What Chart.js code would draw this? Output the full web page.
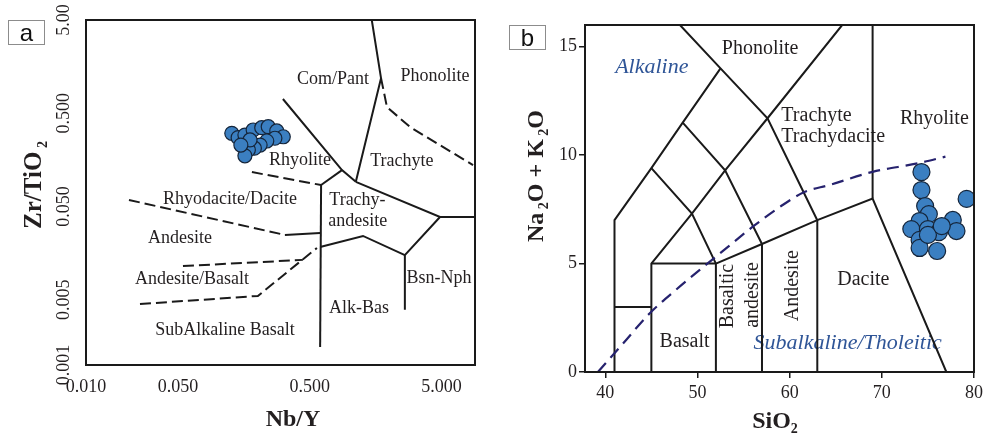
<!DOCTYPE html>
<html>
<head>
<meta charset="utf-8">
<script src="https://cdn.jsdelivr.net/npm/chart.js@4.4.1/dist/chart.umd.min.js"></script>
<style>
  html, body { margin: 0; padding: 0; background: #fff; }
  #wrap { position: relative; width: 987px; height: 436px; overflow: hidden; background: #fff; }
  #ca { position: absolute; left: 0; top: 0; }
  #cb { position: absolute; left: 495px; top: 0; }
  .tag {
    position: absolute; box-sizing: border-box; border: 1px solid #8c8c8c; background: #fff;
    font-family: 'Liberation Sans', Arial, sans-serif; font-size: 24px; line-height: 23px;
    text-align: center; color: #111;
  }
</style>
</head>
<body>
<div id="wrap">
  <canvas id="ca" width="495" height="436"></canvas>
  <canvas id="cb" width="492" height="436"></canvas>
  <div class="tag" style="left:8px;top:20px;width:37px;height:25px;">a</div>
  <div class="tag" style="left:509px;top:25px;width:37px;height:25px;">b</div>
</div>
<script>
// ---------- Panel a: Nb/Y vs Zr/TiO2 ----------
const nbY  = [0.128, 0.143, 0.161, 0.186, 0.216, 0.242, 0.281, 0.315, 0.272, 0.236, 0.210, 0.190, 0.171, 0.161, 0.176, 0.150];
const zrTi = [0.305, 0.274, 0.292, 0.331, 0.350, 0.359, 0.323, 0.280, 0.270, 0.252, 0.228, 0.211, 0.202, 0.175, 0.259, 0.228];

const aTicksX = [0.01, 0.05, 0.5, 5];
const aTickLabelsX = ['0.010', '0.050', '0.500', '5.000'];
const aTicksY = [0.001, 0.005, 0.05, 0.5, 5];
const aTickLabelsY = ['0.001', '0.005', '0.050', '0.500', '5.00'];

// field boundaries as [Nb/Y, Zr/TiO2] vertices
const aComPantEdge     = [[1.48, 5], [1.74, 1.19], [1.12, 0.092]];
const aPhonoliteEdge   = [[1.74, 1.19], [1.93, 0.584], [2.89, 0.356], [8.7, 0.139]];
const aRhyoliteEdge    = [[0.313, 0.711], [0.879, 0.123], [1.12, 0.092]];
const aRhyTrachyAnd    = [[0.879, 0.123], [0.61, 0.085]];
const aAlkalineDivide  = [[0.61, 0.085], [0.60, 0.00156]];
const aRhyodaciteEdge  = [[0.182, 0.117], [0.61, 0.085]];
const aTrachyteBase    = [[1.12, 0.092], [4.88, 0.0386], [9, 0.0386]];
const aBsnNphEdge      = [[4.88, 0.0386], [2.64, 0.0151], [2.64, 0.0039]];
const aTrachyAndBase   = [[0.60, 0.0184], [1.27, 0.0242], [2.64, 0.0151]];
const aAndesiteTopDash = [[0.0212, 0.0588], [0.324, 0.0248]];
const aAndesiteTop     = [[0.324, 0.0248], [0.60, 0.026]];
const aAndBasTop       = [[0.0545, 0.0115], [0.444, 0.0134]];
const aAndBasBase      = [[0.0257, 0.00451], [0.202, 0.0055], [0.5675, 0.018]];

const aSolid  = [aComPantEdge, aRhyoliteEdge, aRhyTrachyAnd, aAlkalineDivide, aTrachyteBase, aBsnNphEdge, aTrachyAndBase, aAndesiteTop];
const aDashed = [aPhonoliteEdge, aRhyodaciteEdge, aAndesiteTopDash, aAndBasTop, aAndBasBase];

const aFieldNames = [
  { t: 'Com/Pant', x: 0.751, y: 1.165 },
  { t: 'Phonolite', x: 4.47, y: 1.255 },
  { t: 'Rhyolite', x: 0.4215, y: 0.158 },
  { t: 'Trachyte', x: 2.507, y: 0.154 },
  { t: 'Rhyodacite/Dacite', x: 0.124, y: 0.0602 },
  { t: 'Trachy-', x: 1.152, y: 0.0588 },
  { t: 'andesite', x: 1.16, y: 0.035 },
  { t: 'Andesite', x: 0.0517, y: 0.0230 },
  { t: 'Andesite/Basalt', x: 0.0638, y: 0.00836 },
  { t: 'Bsn-Nph', x: 4.79, y: 0.00857 },
  { t: 'Alk-Bas', x: 1.183, y: 0.00408 },
  { t: 'SubAlkaline Basalt', x: 0.1136, y: 0.00237 }
];

// ---------- Panel b: TAS ----------
const sio2 = [74.3, 74.3, 74.7, 75.1, 74.1, 73.2, 75.0, 76.2, 77.7, 78.1, 74.1, 74.1, 76.0, 79.2, 75.0, 76.5];
const alk  = [9.22, 8.39, 7.65, 7.28, 6.96, 6.59, 6.59, 6.45, 7.01, 6.50, 6.09, 5.72, 5.58, 7.98, 6.32, 6.73];

const bTicksX = [40, 50, 60, 70, 80];
const bTickLabelsX = ['40', '50', '60', '70', '80'];
const bTicksY = [0, 5, 10, 15];
const bTickLabelsY = ['0', '5', '10', '15'];

// TAS field boundaries as [SiO2, Na2O+K2O] vertices
const tasBoundaries = [
  [[41, 0], [41, 7], [45, 9.4], [48.4, 11.5], [52.5, 14]],
  [[48.1, 16], [52.5, 14], [57.6, 11.7], [63, 7]],
  [[41, 3], [45, 3]],
  [[45, 0], [45, 5], [49.4, 7.3], [53, 9.3], [57.6, 11.7], [65.7, 16]],
  [[45, 5], [52, 5]],
  [[52, 0], [52, 5], [57, 5.9], [63, 7], [69, 8], [77, 0]],
  [[45, 9.4], [49.4, 7.3], [52, 5]],
  [[48.4, 11.5], [53, 9.3], [57, 5.9], [57, 0]],
  [[63, 0], [63, 7]],
  [[69, 8], [69, 16]]
];

// alkaline / subalkaline divide
const ibSiO2 = [39.2, 41.9, 44.8, 47.7, 50.8, 53.1, 56.0, 58.9, 61.6, 64.3, 69.0, 73.9, 76.9];
const ibAlk  = [0.0, 1.3, 2.7, 3.8, 4.9, 5.7, 6.7, 7.6, 8.3, 8.62, 9.23, 9.62, 9.93];

const bFieldNames = [
  { t: 'Phonolite', x: 56.8, y: 14.9 },
  { t: 'Trachyte', x: 59.1, y: 11.8, align: 'left' },
  { t: 'Trachydacite', x: 59.1, y: 10.83, align: 'left' },
  { t: 'Rhyolite', x: 75.7, y: 11.7 },
  { t: 'Dacite', x: 68.0, y: 4.24 },
  { t: 'Basalt', x: 48.6, y: 1.4 },
  { t: 'Basaltic', x: 53.3, y: 3.5, rot: true },
  { t: 'andesite', x: 56.0, y: 3.55, rot: true },
  { t: 'Andesite', x: 60.3, y: 3.98, rot: true }
];
const bSeriesNames = [
  { t: 'Alkaline', x: 45.05, y: 14.06 },
  { t: 'Subalkaline/Tholeitic', x: 66.3, y: 1.35 }
];

// ---------- shared drawing helpers ----------
const SERIF = "'Liberation Serif', 'Times New Roman', serif";
const INK = '#231f20';

function toXY(pairs) { return pairs.map(p => ({ x: p[0], y: p[1] })); }

function lineSet(pairs, dashed, color, width, dash) {
  return {
    data: toXY(pairs), showLine: true, pointRadius: 0, pointHoverRadius: 0,
    borderColor: color || '#1a1a1a', borderWidth: width || 2,
    borderDash: dashed ? (dash || [11, 5]) : [], fill: false, tension: 0, order: 2
  };
}

function label(ctx, text, px, py, font, color, align, rot) {
  ctx.save();
  ctx.translate(px, py);
  if (rot) ctx.rotate(-Math.PI / 2);
  ctx.font = font;
  ctx.fillStyle = color;
  ctx.textAlign = align || 'center';
  ctx.textBaseline = 'middle';
  ctx.fillText(text, 0, 0);
  ctx.restore();
}

// bold title with lowered small figures
function richTitle(ctx, parts, cx, cy, rot, size) {
  ctx.save();
  ctx.translate(cx, cy);
  if (rot) ctx.rotate(-Math.PI / 2);
  const big = `bold ${size}px ${SERIF}`;
  const small = `bold ${Math.round(size * 0.58)}px ${SERIF}`;
  let w = 0;
  parts.forEach(p => { ctx.font = p.sub ? small : big; p.w = ctx.measureText(p.t).width; w += p.w; });
  let x = -w / 2;
  ctx.fillStyle = INK;
  ctx.textAlign = 'left';
  ctx.textBaseline = 'alphabetic';
  parts.forEach(p => {
    ctx.font = p.sub ? small : big;
    ctx.fillText(p.t, x, size * 0.33 + (p.sub ? size * 0.22 : 0));
    x += p.w;
  });
  ctx.restore();
}

function frame(chart) {
  const a = chart.chartArea, ctx = chart.ctx;
  ctx.save();
  ctx.strokeStyle = '#1a1a1a';
  ctx.lineWidth = 2;
  ctx.strokeRect(a.left, a.top, a.right - a.left, a.bottom - a.top);
  ctx.restore();
}

// ---------- panel a ----------
const panelADecor = {
  id: 'panelADecor',
  beforeDatasetsDraw(chart) {
    const { ctx, scales: { x, y } } = chart;
    aFieldNames.forEach(f => label(ctx, f.t, x.getPixelForValue(f.x), y.getPixelForValue(f.y), `18px ${SERIF}`, INK));
  },
  afterDraw(chart) {
    const { ctx, scales: { y } } = chart;
    frame(chart);
    aTicksY.forEach((v, i) => label(ctx, aTickLabelsY[i], 64, y.getPixelForValue(v), `18px ${SERIF}`, INK, 'center', true));
    richTitle(ctx, [{ t: 'Nb/Y' }], 293, 418, false, 24);
    richTitle(ctx, [{ t: 'Zr/TiO' }, { t: ' 2', sub: true }], 33, 185, true, 25);
  }
};

new Chart(document.getElementById('ca'), {
  type: 'scatter',
  data: {
    datasets: [
      {
        data: nbY.map((v, i) => ({ x: v, y: zrTi[i] })),
        pointRadius: 7, pointBackgroundColor: '#3b7fc1', pointBorderColor: '#15253a',
        pointBorderWidth: 1.2, showLine: false, order: 0
      },
      ...aSolid.map(l => lineSet(l, false)),
      ...aDashed.map(l => lineSet(l, true))
    ]
  },
  options: {
    responsive: false, animation: false, events: [],
    plugins: { legend: { display: false }, tooltip: { enabled: false } },
    layout: { padding: { left: 86, top: 20, right: 20, bottom: 0 } },
    scales: {
      x: {
        type: 'logarithmic', min: 0.01, max: 9,
        afterBuildTicks: s => { s.ticks = aTicksX.map(v => ({ value: v })); },
        afterFit: s => { s.height = 71; },
        ticks: {
          autoSkip: false, maxRotation: 0, minRotation: 0, padding: 11, color: INK,
          font: { family: SERIF, size: 18 }, callback: (v, i) => aTickLabelsX[i]
        },
        grid: { display: false, drawTicks: false }, border: { display: false }
      },
      y: { type: 'logarithmic', display: false, min: 0.001, max: 5 }
    }
  },
  plugins: [panelADecor]
});

// ---------- panel b ----------
const panelBDecor = {
  id: 'panelBDecor',
  beforeDatasetsDraw(chart) {
    const { ctx, scales: { x, y } } = chart;
    bFieldNames.forEach(f => label(ctx, f.t, x.getPixelForValue(f.x), y.getPixelForValue(f.y), `20px ${SERIF}`, INK, f.align, f.rot));
    bSeriesNames.forEach(f => label(ctx, f.t, x.getPixelForValue(f.x), y.getPixelForValue(f.y), `italic 22px ${SERIF}`, '#2f5597'));
  },
  afterDraw(chart) {
    const { ctx } = chart;
    frame(chart);
    richTitle(ctx, [{ t: 'SiO' }, { t: '2', sub: true }], 280, 420, false, 24);
    richTitle(ctx, [{ t: 'Na' }, { t: ' 2', sub: true }, { t: 'O + K' }, { t: ' 2', sub: true }, { t: 'O' }], 40, 176, true, 24);
  }
};

new Chart(document.getElementById('cb'), {
  type: 'scatter',
  data: {
    datasets: [
      {
        data: sio2.map((v, i) => ({ x: v, y: alk[i] })),
        pointRadius: 8.5, pointBackgroundColor: '#3b7fc1', pointBorderColor: '#15253a',
        pointBorderWidth: 1.2, showLine: false, order: 0
      },
      Object.assign(lineSet(ibSiO2.map((v, i) => [v, ibAlk[i]]), true, '#26226e', 2.2, [12, 7]),
        { cubicInterpolationMode: 'monotone', order: 1 }),
      ...tasBoundaries.map(l => lineSet(l, false))
    ]
  },
  options: {
    responsive: false, animation: false, events: [],
    plugins: { legend: { display: false }, tooltip: { enabled: false } },
    layout: { padding: { left: 0, top: 25, right: 12, bottom: 0 } },
    scales: {
      x: {
        type: 'linear', min: 37.8, max: 80,
        afterBuildTicks: s => { s.ticks = bTicksX.map(v => ({ value: v })); },
        afterFit: s => { s.height = 64; },
        ticks: {
          autoSkip: false, maxRotation: 0, minRotation: 0, padding: 4, color: INK,
          font: { family: SERIF, size: 18 }, callback: (v, i) => bTickLabelsX[i]
        },
        grid: { display: true, drawOnChartArea: false, drawTicks: true, tickLength: 6, color: '#1a1a1a', lineWidth: 1.5 },
        border: { display: false }
      },
      y: {
        type: 'linear', min: 0, max: 16,
        afterBuildTicks: s => { s.ticks = bTicksY.map(v => ({ value: v })); },
        afterFit: s => { s.width = 90; },
        ticks: {
          autoSkip: false, padding: 2, color: INK,
          font: { family: SERIF, size: 18 }, callback: (v, i) => bTickLabelsY[i]
        },
        grid: { display: true, drawOnChartArea: false, drawTicks: true, tickLength: 6, color: '#1a1a1a', lineWidth: 1.5 },
        border: { display: false }
      }
    }
  },
  plugins: [panelBDecor]
});
</script>
</body>
</html>
